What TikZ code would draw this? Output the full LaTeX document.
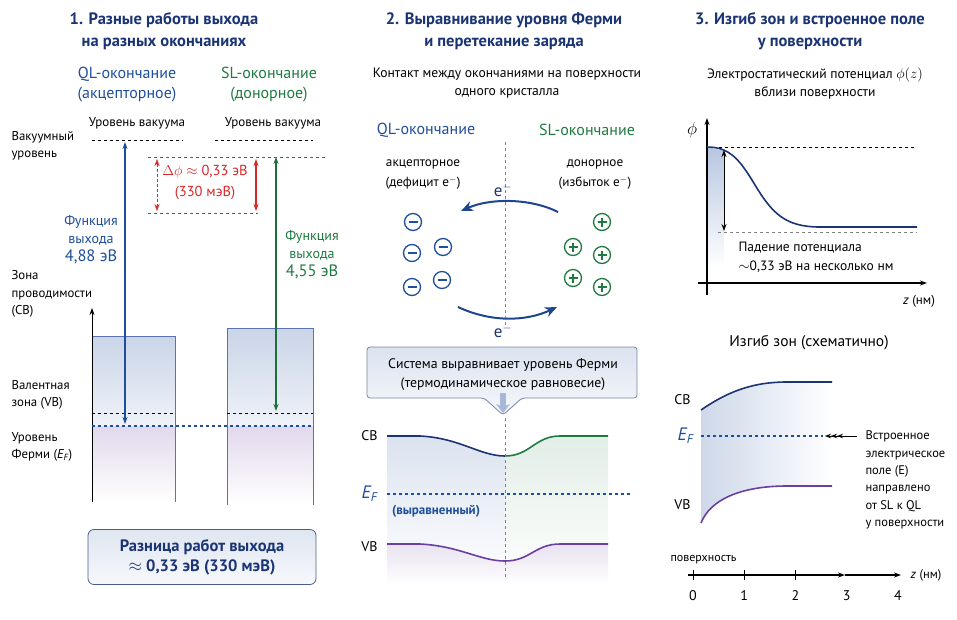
\documentclass[tikz,border=0pt]{standalone}
\usepackage{fontspec}
\setmainfont{PT Sans}
\usetikzlibrary{arrows, arrows.meta, positioning}
\definecolor{navy}{HTML}{1B3473}
\definecolor{qlblue}{HTML}{1F4E9C}
\definecolor{slgreen}{HTML}{1F7A40}
\definecolor{dred}{HTML}{D62828}
\definecolor{vbpurple}{HTML}{6B3FA0}
\definecolor{boxline}{HTML}{5A72B0}
\tikzset{
>={Stealth[length=7pt, width=5pt]}, % arrow heads
title/.style={font=\fontsize{16.5}{22}\selectfont\bfseries, text=navy, align=center}, % panel titles
head/.style={font=\fontsize{16}{20}\selectfont, align=center}, % QL / SL headings
txt/.style={font=\fontsize{13}{18}\selectfont, align=center}, % plain centred text
ltxt/.style={font=\fontsize{12.8}{17.5}\selectfont, align=left, anchor=west}, % left aligned text
band/.style={font=\fontsize{14}{16}\selectfont}, % CB / VB labels
fermi/.style={font=\fontsize{18}{20}\selectfont\itshape, text=qlblue}, % E_F labels
minus/.style={circle, draw=qlblue, line width=1.3pt, minimum size=17pt, inner sep=0pt,
  path picture={\draw[qlblue, line width=1.3pt] ([xshift=-4.5pt]path picture bounding box.center) -- ([xshift=4.5pt]path picture bounding box.center);}},
plus/.style={circle, draw=slgreen, line width=1.3pt, minimum size=17pt, inner sep=0pt,
  path picture={\draw[slgreen, line width=1.3pt] ([xshift=-4.5pt]path picture bounding box.center) -- ([xshift=4.5pt]path picture bounding box.center)
  ([yshift=-4.5pt]path picture bounding box.center) -- ([yshift=4.5pt]path picture bounding box.center);}},
curve/.style={line width=1.6pt}, % band and potential curves
}

\begin{document}
\begin{tikzpicture}[x=1pt, y=-1pt]
\useasboundingbox (0,0) rectangle (957,619);

% ---------- panel 1 ----------
\node[title] (t1) at (164,31) {1. Разные работы выхода\\на разных окончаниях};
\node[head, text=qlblue] (qlhead) at (127,85) {QL-окончание\\(акцепторное)};
\node[head, text=slgreen] (slhead) at (269,85) {SL-окончание\\(донорное)};
\node[txt] (vacql) at (137,123) {Уровень вакуума};
\node[txt] (vacsl) at (273,123) {Уровень вакуума};
\node[ltxt] (vaclab) at (8,146) {Вакуумный\\уровень};
\node[ltxt] (cblab) at (8,294) {Зона\\проводимости\\(CB)};
\node[ltxt] (vblab) at (8,395) {Валентная\\зона (VB)};
\node[ltxt] (eflab) at (8,447) {Уровень\\Ферми ({\itshape E\textsubscript{F}})};

% band boxes
\shade[top color=qlblue!24, bottom color=qlblue!7] (92,336) rectangle (175,426);
\shade[top color=vbpurple!20, bottom color=white] (92,426) rectangle (175,502);
\shade[top color=qlblue!24, bottom color=qlblue!7] (227,328) rectangle (313,426);
\shade[top color=vbpurple!20, bottom color=white] (227,426) rectangle (313,505);
\draw[boxline, thick] (92,336) -- (175,336) -- (175,502);
\draw[boxline, thick] (227,505) -- (227,328) -- (313,328) -- (313,505);
\draw[->, thick] (92,502) -- (92,308);
\draw[dashed, thick] (92,140) -- (183,140);
\draw[dashed, thick] (215,140) -- (313,140);
\draw[dashed, thick] (92,413) -- (175,413);
\draw[dashed, thick] (227,413) -- (313,413);
\draw[dashed, line width=1.5pt, qlblue] (92,426) -- (313,426);

% work functions
\draw[<->, line width=1.3pt, qlblue] (125,142) -- (125,424);
\draw[<->, line width=1.3pt, slgreen!90!black] (276,157) -- (276,411);
\node[font=\fontsize{14}{18}\selectfont, text=qlblue, align=center] (wfql) at (91,240)
  {Функция\\выхода\\{\fontsize{16.5}{18}\selectfont 4,88 эВ}};
\node[font=\fontsize{14}{18}\selectfont, text=slgreen, align=center] (wfsl) at (312,255)
  {Функция\\выхода\\{\fontsize{16.5}{18}\selectfont 4,55 эВ}};

% difference
\draw[dashed, thick, dred] (148,157) -- (327,157);
\draw[dashed, thick, dred] (148,213) -- (258,213);
\draw[<->, densely dashed, dred] (157,159) -- (157,211);
\draw[<->, dred, line width=1.3pt] (256,159) -- (256,211);
\node[font=\fontsize{14.5}{21}\selectfont, text=dred, align=center] (dphi) at (205,182)
  {$\Delta\phi\approx$ 0,33 эВ\\(330 мэВ)};

\node[draw=navy!80, thick, rounded corners=6pt, top color=qlblue!14, bottom color=qlblue!4,
  minimum width=228pt, minimum height=55pt, align=center, text=navy,
  font=\fontsize{16.5}{20}\selectfont\bfseries] (sumbox) at (202,557)
  {Разница работ выхода\\$\approx$ 0,33 эВ (330 мэВ)};

% ---------- panel 2 ----------
\node[title] (t2) at (504,31) {2. Выравнивание уровня Ферми\\и перетекание заряда};
\node[txt, font=\fontsize{13.6}{18}\selectfont] (contact) at (507,83) {Контакт между окончаниями на поверхности\\одного кристалла};
\node[head, text=qlblue] (ql2) at (426,130) {QL-окончание};
\node[head, text=slgreen] (sl2) at (587,130) {SL-окончание};
\node[txt, font=\fontsize{13.2}{20}\selectfont] (acc) at (423,175) {акцепторное\\(дефицит e$^-$)};
\node[txt, font=\fontsize{13.2}{20}\selectfont] (don) at (595,175) {донорное\\(избыток e$^-$)};
\draw[dashed, gray, thick] (505,142) -- (505,325);

\foreach \x/\y [count=\i] in {413/222, 412/253, 443/247, 412/287, 442/280}
  \node[minus] (m\i) at (\x,\y) {};
\foreach \x/\y [count=\i] in {602/222, 573/247, 602/255, 573/278, 602/287}
  \node[plus] (p\i) at (\x,\y) {};

\coordinate (etopA) at (558,212);
\coordinate (etopB) at (461,211);
\coordinate (ebotA) at (458,307);
\coordinate (ebotB) at (557,307);
\draw[-{Stealth[length=12pt, width=10pt]}, line width=2pt, qlblue!70!navy] (etopA) .. controls (530,198) and (490,198) .. (etopB);
\draw[-{Stealth[length=12pt, width=10pt]}, line width=2pt, qlblue!70!navy] (ebotA) .. controls (490,322) and (525,322) .. (ebotB);
\node[font=\fontsize{17}{18}\selectfont, text=navy] (etop) at (503,190) {e$^-$};
\node[font=\fontsize{17}{18}\selectfont, text=navy] (ebot) at (503,331) {e$^-$};

% callout
\draw[navy!60, thick, top color=qlblue!16, bottom color=qlblue!4, rounded corners=3pt]
  (367,347) -- (637,347) -- (637,398) -- (522,398) -- (503,415) -- (484,398) -- (367,398) -- cycle;
\draw[-{Stealth[length=9pt, width=14pt]}, line width=6pt, qlblue!40] (503,393) -- (503,413);
\node[txt, font=\fontsize{13.8}{19}\selectfont] (callout) at (503,375)
  {Система выравнивает уровень Ферми\\(термодинамическое равновесие)};

% aligned bands
\shade[top color=qlblue!16, bottom color=white] (387,436) -- (420,436) .. controls (460,438) and (480,456) .. (505,456) -- (505,585) -- (387,585) -- cycle;
\shade[top color=slgreen!13, bottom color=white] (505,456) .. controls (530,456) and (535,436) .. (560,436) -- (608,436) -- (608,585) -- (505,585) -- cycle;
\shade[top color=vbpurple!15, bottom color=white] (387,544) -- (420,544) .. controls (460,546) and (480,561) .. (505,561) .. controls (530,561) and (535,544) .. (560,544) -- (608,544) -- (608,585) -- (387,585) -- cycle;
\draw[curve, navy] (387,436) -- (420,436) .. controls (460,438) and (480,456) .. (505,456);
\draw[curve, slgreen] (505,456) .. controls (530,456) and (535,436) .. (560,436) -- (608,436);
\draw[curve, vbpurple] (387,544) -- (420,544) .. controls (460,546) and (480,561) .. (505,561) .. controls (530,561) and (535,544) .. (560,544) -- (608,544);
\draw[dashed, gray, thick] (505,418) -- (505,578);
\draw[dashed, line width=1.5pt, qlblue] (387,494) -- (632,494);
\node[band, anchor=east] (cb2) at (381,436) {CB};
\node[band, anchor=east] (vb2) at (381,547) {VB};
\node[fermi, anchor=east] (ef2) at (381,494) {E\textsubscript{F}};
\node[txt, text=qlblue, font=\fontsize{13}{14}\selectfont\bfseries] (aligned) at (436,511) {(выравненный)};

% ---------- panel 3 ----------
\node[title] (t3) at (810,31) {3. Изгиб зон и встроенное поле\\у поверхности};
\node[txt, font=\fontsize{13.6}{18}\selectfont] (pot) at (815,83) {Электростатический потенциал $\phi(z)$\\вблизи поверхности};
\shade[top color=qlblue!32, bottom color=white] (707,147) -- (724,151) -- (724,268) -- (707,268) -- cycle;
\draw[dashed, thick] (707,147) -- (917,147);
\draw[dashed, thick, gray] (718,232) -- (917,232);
\draw[->, line width=1.4pt] (698,283) -- (927,283);
\draw[->, line width=1.4pt] (707,295) -- (707,118);
\draw[curve, navy] (707,147) .. controls (730,147) and (740,160) .. (755,185)
  .. controls (772,213) and (785,227) .. (820,227) -- (917,227);
\draw[<->, thick] (724,150) -- (724,231);
\node[font=\fontsize{16}{18}\selectfont] (phi) at (692,130) {$\phi$};
\node[ltxt, font=\fontsize{13.5}{19}\selectfont] (drop) at (735,257) {Падение потенциала\\$\sim$0,33 эВ на несколько нм};
\node[txt, font=\fontsize{13}{14}\selectfont] (zax1) at (919,301) {\textit{z} (нм)};

% band bending
\node[txt, font=\fontsize{15.5}{16}\selectfont] (bend) at (809,343) {Изгиб зон (схематично)};
\shade[left color=qlblue!22, right color=white] (701,410) .. controls (730,390) and (755,382) .. (787,382) -- (832,382)
  -- (832,486) -- (787,486) .. controls (740,486) and (710,500) .. (701,523) -- cycle;
\draw[curve, navy] (701,410) .. controls (730,390) and (755,382) .. (787,382) -- (832,382);
\draw[curve, vbpurple] (701,523) .. controls (710,500) and (740,486) .. (787,486) -- (832,486);
\draw[dashed, line width=1.5pt, qlblue] (701,436) -- (823,436);
\draw[{Stealth[length=6pt]Stealth[length=6pt]Stealth[length=6pt, open]}-, thick] (825,436) -- (857,436);
\node[band, anchor=east] (cb3) at (694,400) {CB};
\node[band, anchor=east] (vb3) at (694,505) {VB};
\node[fermi, anchor=east] (ef3) at (697,436) {E\textsubscript{F}};
\node[ltxt, font=\fontsize{12.5}{17.4}\selectfont] (field) at (862,480)
  {Встроенное\\электрическое\\поле (E)\\направлено\\от SL к QL\\у поверхности};
\node[ltxt, font=\fontsize{12}{14}\selectfont] (surf) at (667,560) {поверхность};
\coordinate (zmid) at (845,575);
\draw[->, line width=1.3pt] (688,575) -- (zmid);
\draw[->, line width=1.3pt] (zmid) -- (901,575);
\foreach \i in {0,...,4}
  \node[font=\fontsize{14}{16}\selectfont] (n\i) at (693+51.25*\i,596) {\i};
\foreach \i in {0,1,2}
  \draw[thick] (693+51.25*\i,570) -- (693+51.25*\i,580);
\node[txt, font=\fontsize{12.5}{14}\selectfont] (zax2) at (926,575) {\textit{z} (нм)};
\end{tikzpicture}
\end{document}
